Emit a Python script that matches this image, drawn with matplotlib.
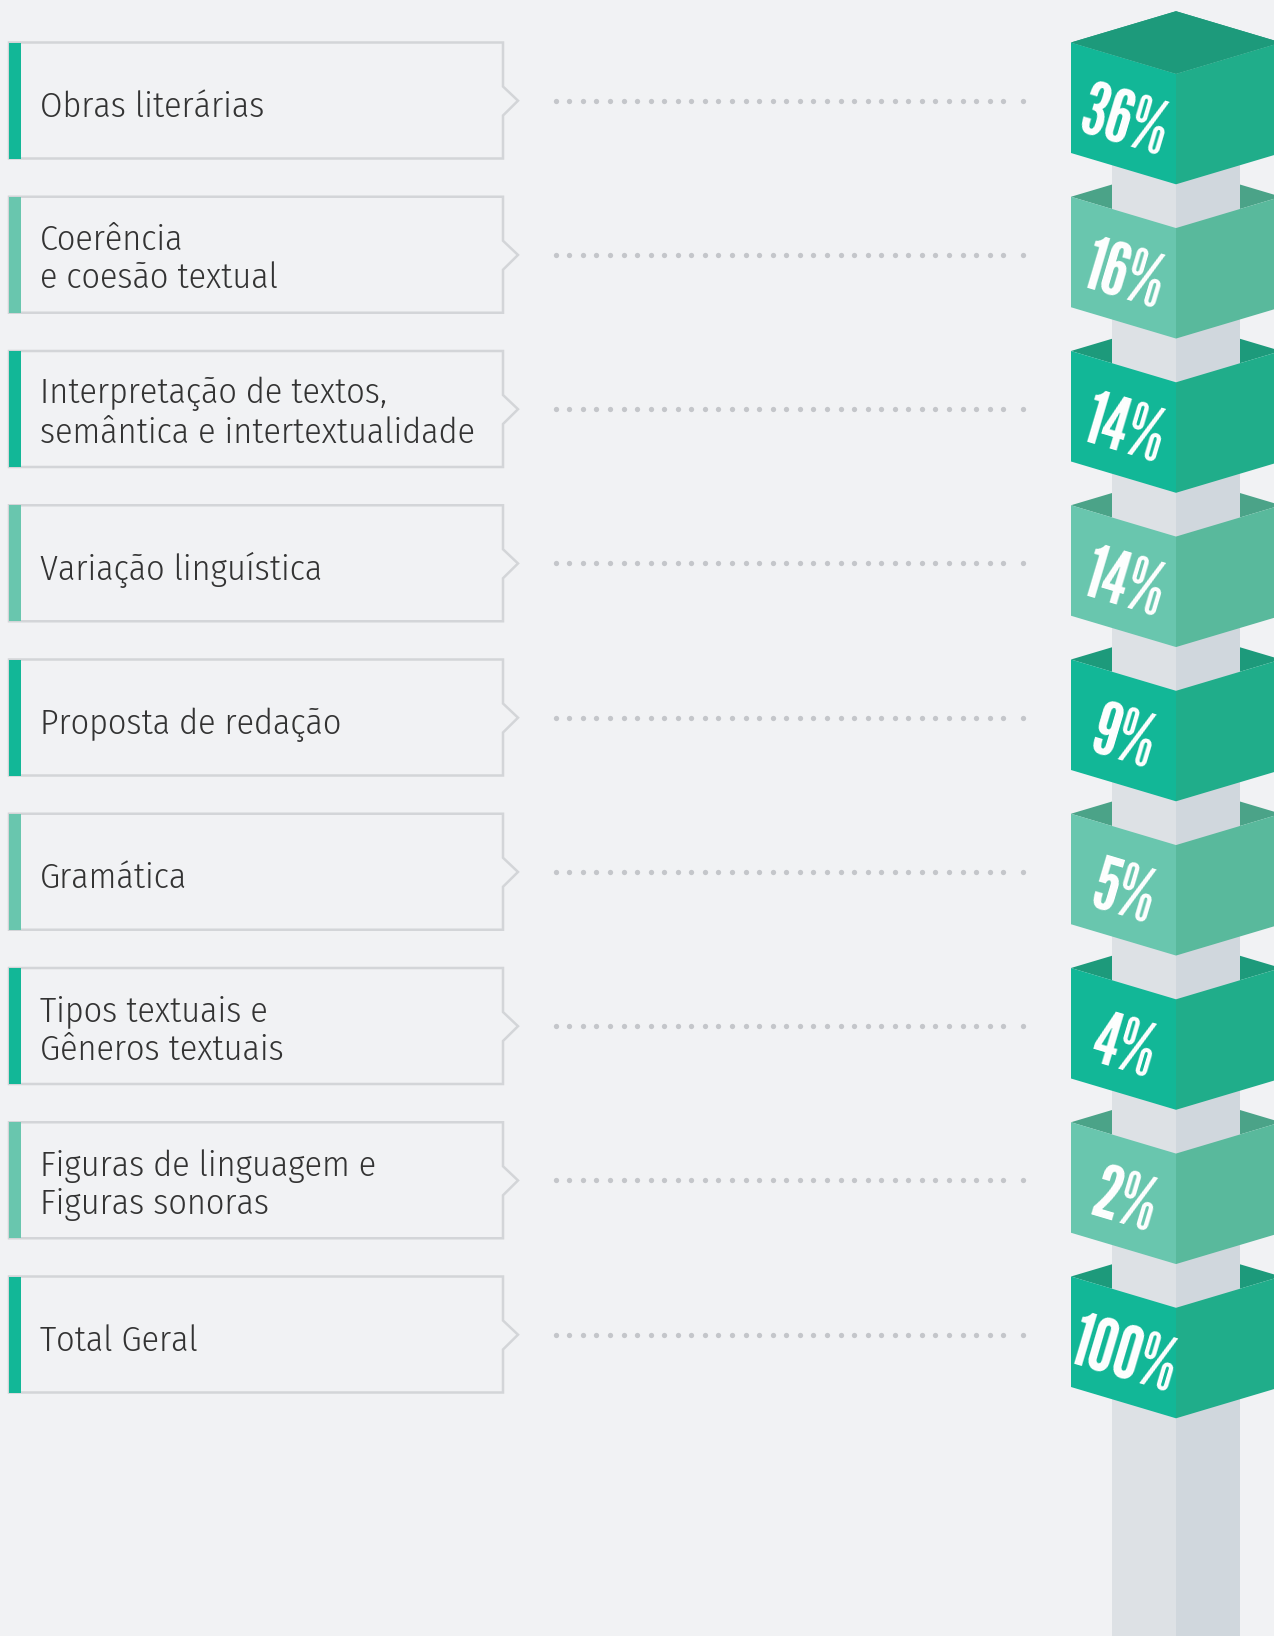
import numpy as np
import matplotlib
matplotlib.use("Agg")
import matplotlib.pyplot as plt
from matplotlib.patches import Polygon, Rectangle

# data
labels = ["Obras literárias",
          "Coerência\ne coesão textual",
          "Interpretação de textos,\nsemântica e intertextualidade",
          "Variação linguística",
          "Proposta de redação",
          "Gramática",
          "Tipos textuais e\nGêneros textuais",
          "Figuras de linguagem e\nFiguras sonoras",
          "Total Geral"]
percents = [36, 16, 14, 14, 9, 5, 4, 2, 100]

# colours
bg = "#f1f2f4"
border = "#d3d5d8"
text_col = "#333333"
dot_col = "#c4c6ca"
dark = {"left": "#12b797", "right": "#20ad8a", "back": "#1d9a7b"}
light = {"left": "#69c6ae", "right": "#59b99c", "back": "#4ba388"}
pillar_l = "#dde1e5"
pillar_r = "#d0d7dd"

W, H = 1274, 1636
fig = plt.figure(figsize=(W / 100, H / 100), dpi=100, facecolor=bg)
ax = fig.add_axes([0, 0, 1, 1])
ax.set_xlim(0, W)
ax.set_ylim(H, 0)
ax.axis("off")
ax.set_facecolor(bg)

top0 = 42.5
step = 154.25
box_h = 116
cx, hw, dy, fh = 1176, 105, 31.3, 110.5

# pillar behind the cubes
ax.add_patch(Rectangle((1112, 100), 64, H - 100, color=pillar_l, lw=0, zorder=2))
ax.add_patch(Rectangle((1176, 100), 64, H - 100, color=pillar_r, lw=0, zorder=2))

# dotted leader x positions
xs = np.append(np.linspace(555.7, 1003.3, 34), 1022.7)

for i, (lab, p) in enumerate(zip(labels, percents)):
    t = top0 + step * i
    mid = t + 58.2
    pal = dark if i % 2 == 0 else light

    # label box with small arrow on the right side
    box = Polygon([(9, t), (503, t), (503, t + 44), (518, mid), (503, t + 73),
                   (503, t + box_h), (9, t + box_h)], closed=True,
                  facecolor=bg, edgecolor=border, lw=1.8, zorder=2)
    ax.add_patch(box)
    ax.add_patch(Rectangle((9, t), 12, box_h, color=pal["left"], lw=0, zorder=3))
    nl = lab.count("\n") + 1
    # baseline anchor is the last line
    ax.text(40, mid + 16.5 + 17 * (nl - 1), lab, ha="left", va="baseline", fontsize=26,
            family="Fira Sans Condensed", weight=300, color=text_col,
            linespacing=1.17, zorder=4)

    ax.plot(xs, np.full(len(xs), mid), "o", ms=3.8, color=dot_col, mec="none", zorder=2)

    # cube (band around the pillar)
    ax.add_patch(Polygon([(cx - hw, t), (cx, t - dy), (cx + hw, t), (cx, t + dy)],
                         closed=True, color=pal["back"], lw=0, zorder=1))
    ax.add_patch(Polygon([(cx - hw, t), (cx, t + dy), (cx, t + dy + fh), (cx - hw, t + fh)],
                         closed=True, color=pal["left"], lw=0, zorder=3))
    ax.add_patch(Polygon([(cx, t + dy), (cx + hw, t), (cx + hw, t + fh), (cx, t + dy + fh)],
                         closed=True, color=pal["right"], lw=0, zorder=3))
    if i == 0:
        ax.add_patch(Polygon([(cx - hw, t), (cx, t - dy), (cx + hw, t), (cx, t + dy)],
                             closed=True, color=pal["back"], lw=0, zorder=3))
    ax.text(cx - hw / 2, t + 82, f"{p}%", ha="center", va="center", rotation=-16.6,
            rotation_mode="anchor", fontsize=53, family="League Gothic",
            color="white", zorder=5)

fig.savefig("out.png", dpi=100, facecolor=bg)
